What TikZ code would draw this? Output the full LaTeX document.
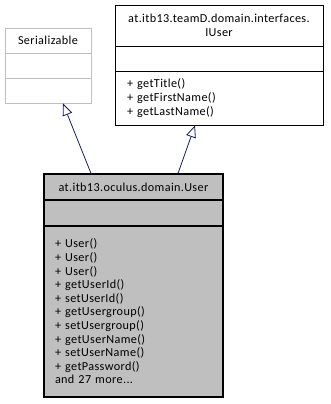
\documentclass[tikz,border=0pt]{standalone}
\usepackage{fontspec}
\setmainfont{Carlito}[LetterSpace=3]
\usetikzlibrary{arrows.meta}

\definecolor{edgeblue}{RGB}{25,25,112}

\begin{document}
\begin{tikzpicture}[x=1pt, y=-1pt,
font=\fontsize{12.2}{13.6}\selectfont,
faded/.style={rectangle, draw=black!25, line width=0.8pt, inner sep=0pt, minimum width=86pt, minimum height=25pt},
iface/.style={rectangle, draw=black, line width=0.8pt, inner sep=0pt, minimum width=208pt},
current/.style={rectangle, draw=black, fill=black!25, line width=1.2pt, inner sep=0pt, minimum width=179pt},
realize/.style={draw=edgeblue, line width=0.8pt, -{Triangle[open, fill=white, length=12pt, width=10pt]}}
]
\useasboundingbox (0,0) rectangle (331,404);

% Serializable
\node[faded] at (48, 40.5) (ser) {Serializable};
\node[faded] at (48, 65.5) (serattr) {};
\node[faded] at (48, 90.5) (serops) {};

% interface IUser
\node[iface, minimum height=41pt, align=center] at (219, 25.5) (iu) {at.itb13.teamD.domain.interfaces.\\IUser};
\node[iface, minimum height=25pt] at (219, 58.5) (iuattr) {};
\node[iface, minimum height=54pt, text width=184pt, align=left] at (219, 98) (iuops) {+ getTitle()\\+ getFirstName()\\+ getLastName()};

% class User
\node[current, minimum height=26pt] at (133.5, 187) (usr) {at.itb13.oculus.domain.User};
\node[current, minimum height=26pt] at (133.5, 213) (usrattr) {};
\node[current, minimum height=171pt, text width=157pt, align=left] at (133.5, 311.5) (usrops) {+ User()\\+ User()\\+ User()\\+ getUserId()\\+ setUserId()\\+ getUsergroup()\\+ setUsergroup()\\+ getUserName()\\+ setUserName()\\+ getPassword()\\and 27 more...};

\draw[realize] ([xshift=-42.5pt]usr.north) -- ([xshift=15pt]serops.south);
\draw[realize] ([xshift=44.5pt]usr.north) -- ([xshift=-24pt]iuops.south);
\end{tikzpicture}
\end{document}
